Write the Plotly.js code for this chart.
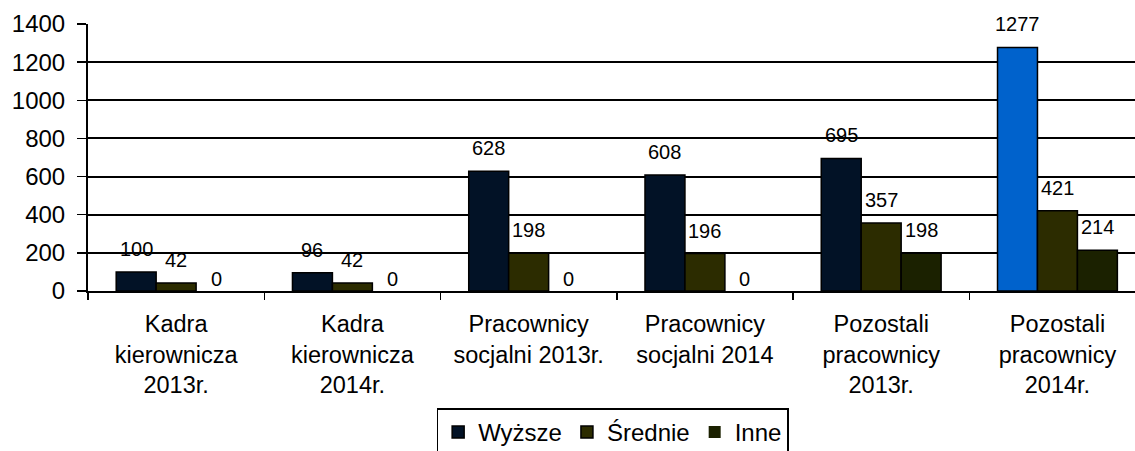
<!DOCTYPE html>
<html>
<head>
<meta charset="utf-8">
<script src="https://cdn.plot.ly/plotly-3.0.1.min.js"></script>
<style>html,body{margin:0;padding:0;background:#fff;overflow:hidden}</style>
</head>
<body>
<div id="chart" style="width:1135px;height:451px"></div>
<script>
const categories = [
  "Kadra<br>kierownicza<br>2013r.",
  "Kadra<br>kierownicza<br>2014r.",
  "Pracownicy<br>socjalni 2013r.",
  "Pracownicy<br>socjalni 2014",
  "Pozostali<br>pracownicy<br>2013r.",
  "Pozostali<br>pracownicy<br>2014r."
];
const seriesNames = ["Wyższe", "Średnie", "Inne"];
const wyzsze = [100, 96, 628, 608, 695, 1277];
const srednie = [42, 42, 198, 196, 357, 421];
const inne = [0, 0, 0, 0, 198, 214];

const FONT = "Liberation Sans, Arial, sans-serif";
const bargap = 0.32;
const colWyzsze = wyzsze.map((v, i) => i === wyzsze.length - 1 ? "#0062cc" : "#021226");
const seriesColors = [colWyzsze, "#2c2c00", "#1b2100"];
const allSeries = [wyzsze, srednie, inne];

const traces = allSeries.map((vals, s) => ({
  type: "bar",
  name: seriesNames[s],
  x: categories,
  y: vals,
  marker: {
    color: seriesColors[s],
    line: { color: "#000", width: vals.map(v => v === 0 ? 0 : 1.5) }
  },
  hoverinfo: "skip"
}));

const bw = (1 - bargap) / 3;
const annotations = [];
allSeries.forEach((vals, s) => {
  vals.forEach((v, i) => {
    annotations.push({
      xref: "x", yref: "y",
      x: i + (s - 1) * bw,
      y: v,
      text: String(v),
      showarrow: false,
      yanchor: "bottom",
      yshift: v === 0 ? -1 : 10,
      font: { family: FONT, size: 20, color: "#000" }
    });
  });
});

const layout = {
  width: 1135, height: 451,
  margin: { l: 88, r: 0, t: 24, b: 160, autoexpand: false },
  paper_bgcolor: "#fff", plot_bgcolor: "#fff",
  barmode: "group", bargap: bargap, bargroupgap: 0,
  font: { family: FONT, size: 23.5, color: "#000" },
  showlegend: true,
  legend: {
    orientation: "h",
    x: 0.333, xanchor: "left",
    y: -0.44, yanchor: "top",
    bordercolor: "#000", borderwidth: 1.5,
    font: { family: FONT, size: 24, color: "#000" },
    itemwidth: 30,
    itemclick: false, itemdoubleclick: false,
    traceorder: "normal"
  },
  xaxis: {
    type: "category",
    range: [-0.5, 5.44],
    autorange: false,
    automargin: false,
    showline: true, linecolor: "#000", linewidth: 2,
    ticks: "outside", tickson: "boundaries", ticklen: 7, tickwidth: 1.5, tickcolor: "#000",
    ticklabelstandoff: 11,
    showgrid: false,
    tickfont: { family: FONT, size: 23.5, color: "#000" },
    tickangle: 0
  },
  yaxis: {
    range: [0, 1400], autorange: false,
    automargin: false,
    dtick: 200, tick0: 0,
    showline: true, linecolor: "#000", linewidth: 2,
    ticks: "outside", ticklen: 9, tickwidth: 1.5, tickcolor: "#000",
    ticklabelstandoff: 7,
    showgrid: true, gridcolor: "#000", gridwidth: 2,
    zeroline: false,
    tickfont: { family: FONT, size: 24, color: "#000" }
  },
  annotations: annotations
};

Plotly.newPlot("chart", traces, layout, { displayModeBar: false, staticPlot: true });
</script>
</body>
</html>
